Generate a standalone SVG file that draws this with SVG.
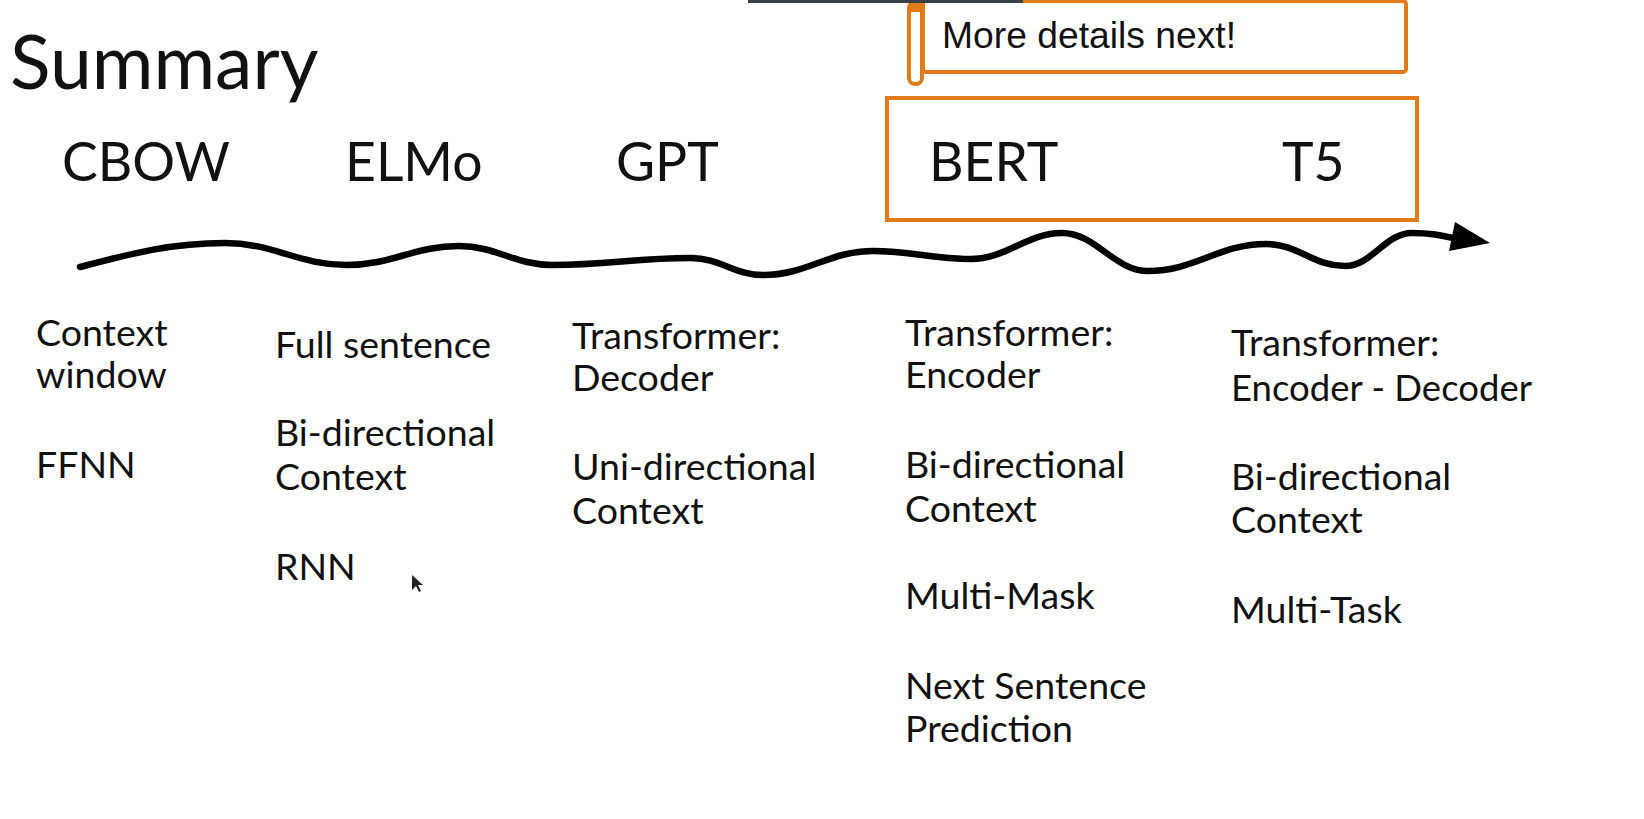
<svg xmlns="http://www.w3.org/2000/svg" width="1644" height="819" viewBox="0 0 1644 819">
<style>
.t{font-family:Lato,"Liberation Sans",sans-serif;fill:#111;}
.lbl{font-size:53.5px;}
.d{font-size:37.5px;}
.box{fill:none;stroke:#E07B1A;stroke-width:4;}
</style>
<rect width="1644" height="819" fill="#fff"/>
<text class="t" x="10" y="89" font-size="75">Summary</text>
<g id="callout">
<rect x="923" y="1" width="483" height="71" fill="#fff" class="box" rx="3"/>
<rect x="909" y="2" width="13" height="82" rx="6" fill="#fff" stroke="#E07B1A" stroke-width="4"/>
<rect x="909" y="0" width="13" height="12" fill="#E07B1A"/>
<text x="942" y="48" font-family="Liberation Sans,Arial,sans-serif" font-size="36" textLength="294" lengthAdjust="spacingAndGlyphs" fill="#111">More details next!</text>
</g>
<rect x="748" y="0" width="275" height="3" fill="#3a3f47"/>
<g id="bert-t5-box"><rect x="887" y="98" width="530" height="122" class="box"/></g>
<g id="cbow"><text class="t lbl" x="62" y="181">CBOW</text>
<text class="t d" x="36" y="346">Context</text><text class="t d" x="36" y="388">window</text><text class="t d" x="36" y="478">FFNN</text></g>
<g id="elmo"><text class="t lbl" x="345" y="181">ELMo</text>
<text class="t d" x="275" y="358">Full sentence</text><text class="t d" x="275" y="446">Bi-directional</text><text class="t d" x="275" y="490">Context</text><text class="t d" x="275" y="580">RNN</text></g>
<g id="gpt"><text class="t lbl" x="616" y="181">GPT</text>
<text class="t d" x="572" y="349">Transformer:</text><text class="t d" x="572" y="391">Decoder</text><text class="t d" x="572" y="480">Uni-directional</text><text class="t d" x="572" y="524">Context</text></g>
<g id="bert"><text class="t lbl" x="929" y="181">BERT</text>
<text class="t d" x="905" y="346">Transformer:</text><text class="t d" x="905" y="388">Encoder</text><text class="t d" x="905" y="478">Bi-directional</text><text class="t d" x="905" y="522">Context</text><text class="t d" x="905" y="609">Multi-Mask</text><text class="t d" x="905" y="699">Next Sentence</text><text class="t d" x="905" y="742">Prediction</text></g>
<g id="t5"><text class="t lbl" x="1282" y="181">T5</text>
<text class="t d" x="1231" y="356">Transformer:</text><text class="t d" x="1231" y="401" textLength="301" lengthAdjust="spacingAndGlyphs">Encoder - Decoder</text><text class="t d" x="1231" y="490">Bi-directional</text><text class="t d" x="1231" y="533">Context</text><text class="t d" x="1231" y="623">Multi-Task</text></g>
<g id="connectors">
<path d="M80,267 C130,254 170,243 225,243 C274,243 298,265 347,265 C392,265 414,246 459,246 C496,246 515,265 552,265 C608,265 635,258 691,258 C720,258 734,275 763,275 C807,275 829,251 873,251 C912,251 932,259 971,259 C1007,259 1026,233 1062,233 C1096,233 1114,271 1148,271 C1195,271 1219,244 1266,244 C1298,244 1313,266 1345,266 C1372,266 1385,233 1412,233 C1430,233 1440,235 1458,239" fill="none" stroke="#000" stroke-width="6.5" stroke-linecap="round"/>
<path d="M1455,222 L1490,243 L1449,251 Z" fill="#000"/>
</g>
<path d="M412,575 L412,590 L416,586 L419,592 L421,591 L418,585 L423,585 Z" fill="#222"/>
</svg>
